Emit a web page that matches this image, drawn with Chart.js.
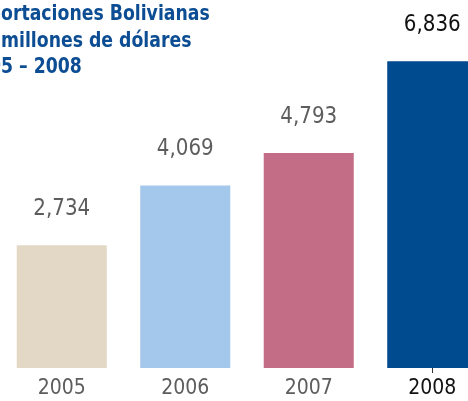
<!DOCTYPE html>
<html><head><meta charset="utf-8">
<script src="https://cdn.jsdelivr.net/npm/chart.js@4/dist/chart.umd.min.js"></script>
<style>
html,body{margin:0;padding:0;background:#fff;overflow:hidden;width:468px;height:401px;}
#wrap{position:absolute;left:0;top:0;width:494px;height:401px;}
</style></head>
<body>
<div id="wrap"><canvas id="c" width="494" height="401"></canvas></div>
<script>
const categories = ["2005", "2006", "2007", "2008"];
const exportValues = [2734, 4069, 4793, 6836];
const barColors = ["#e3d8c5", "#a3c8eb", "#c36d87", "#004a8f"];
const titleLines = ["Exportaciones Bolivianas", "En millones de dólares", "2005 – 2008"];
const titleHidden = ["Exp", "En ", "200"];

const FONT = "'DejaVu Sans Condensed', 'DejaVu Sans', sans-serif";
const textColors = ["#5d5d5d", "#5d5d5d", "#5d5d5d", "#111111"];
const TITLE_SX = 0.915;
const VALUE_SX = 0.96;

const titlePlugin = {
  id: 'clippedTitle',
  afterDraw(chart) {
    const ctx = chart.ctx;
    ctx.save();
    ctx.font = "bold 21px " + FONT;
    ctx.fillStyle = "#0c4d93";
    ctx.textAlign = "left";
    ctx.textBaseline = "alphabetic";
    ctx.scale(TITLE_SX, 1);
    titleLines.forEach((t, i) => {
      const off = ctx.measureText(titleHidden[i]).width;
      ctx.fillText(t, 1 / TITLE_SX - off, 20 + i * 26.5);
    });
    ctx.restore();
  }
};

const valuePlugin = {
  id: 'valueLabels',
  afterDatasetsDraw(chart) {
    const ctx = chart.ctx;
    const meta = chart.getDatasetMeta(0);
    ctx.save();
    ctx.font = "23px " + FONT;
    ctx.textAlign = "center";
    ctx.textBaseline = "middle";
    meta.data.forEach((bar, i) => {
      ctx.save();
      ctx.translate(bar.x, bar.y - 36);
      ctx.scale(VALUE_SX, 1);
      ctx.fillStyle = textColors[i];
      ctx.fillText(exportValues[i].toLocaleString('en-US'), 0, 0);
      ctx.restore();
    });
    ctx.restore();
  }
};

new Chart(document.getElementById('c'), {
  type: 'bar',
  data: {
    labels: categories,
    datasets: [{
      data: exportValues,
      backgroundColor: barColors,
      borderWidth: 0,
      categoryPercentage: 1,
      barPercentage: 0.729
    }]
  },
  options: {
    responsive: false,
    animation: false,
    devicePixelRatio: 1,
    layout: { padding: { left: 0, right: 0, top: 9, bottom: 0 } },
    plugins: { legend: { display: false }, tooltip: { enabled: false }, title: { display: false } },
    scales: {
      y: { display: false, min: 0, max: 8000 },
      x: {
        border: { display: false },
        grid: {
          offset: false,
          drawOnChartArea: false,
          drawTicks: true,
          tickLength: 5,
          tickColor: (c) => c.index === 3 ? '#333333' : 'rgba(0,0,0,0)',
          lineWidth: 1
        },
        ticks: {
          font: { family: FONT, size: 21 },
          color: (c) => textColors[c.index],
          padding: 3,
          maxRotation: 0
        },
        afterFit(s) { s.height = 33; }
      }
    }
  },
  plugins: [titlePlugin, valuePlugin]
});
</script>
</body></html>
